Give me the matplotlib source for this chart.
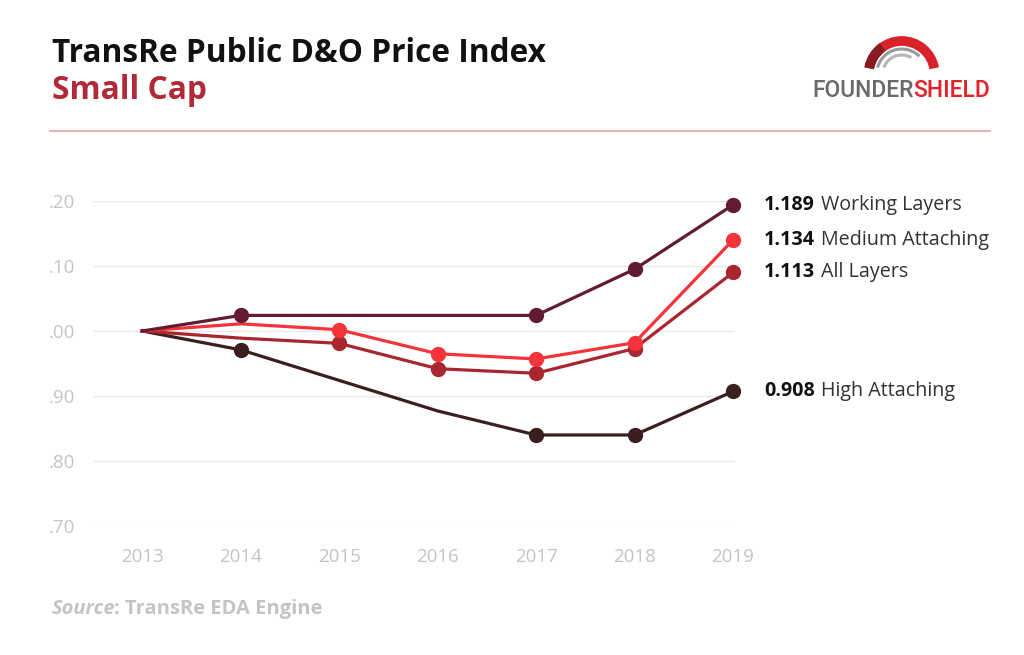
import matplotlib.pyplot as plt
from matplotlib.patches import Arc
from matplotlib.ticker import FuncFormatter

years = [2013, 2014, 2015, 2016, 2017, 2018, 2019]

# index values as drawn on the chart
working_layers = [1.000, 1.024, 1.024, 1.024, 1.024, 1.095, 1.194]
medium_attaching = [1.000, 1.011, 1.002, 0.965, 0.957, 0.982, 1.140]
all_layers = [1.000, 0.989, 0.981, 0.942, 0.935, 0.973, 1.090]
high_attaching = [1.000, 0.971, 0.924, 0.877, 0.840, 0.840, 0.907]

# which points carry a dot
working_marks = [1, 4, 5, 6]
medium_marks = [2, 3, 4, 5, 6]
all_marks = [2, 3, 4, 5, 6]
high_marks = [1, 4, 5, 6]

# end labels
end_values = ["1.189", "1.134", "1.113", "0.908"]
end_names = ["Working Layers", "Medium Attaching", "All Layers", "High Attaching"]

c_working = '#621c31'
c_medium = '#f5333b'
c_all = '#a9262f'
c_high = '#3b1e1f'
grey_txt = '#c4c4c4'

plt.rcParams['font.family'] = ['Open Sans', 'DejaVu Sans']

fig = plt.figure(figsize=(10.24, 6.55), dpi=100)
W, H = 1024, 655


def fx(px):
    return px / W


def fy(py):
    return 1 - py / H


def fit(t, target_w, r):
    # scale a text's font size so it spans target_w pixels
    w = t.get_window_extent(renderer=r).width
    t.set_fontsize(t.get_fontsize() * target_w / w)


ax = fig.add_axes([fx(93), fy(526), fx(735) - fx(93), fy(201) - fy(526)])

series = [
    (high_attaching, c_high, high_marks),
    (all_layers, c_all, all_marks),
    (medium_attaching, c_medium, medium_marks),
    (working_layers, c_working, working_marks),
]
for vals, col, marks in series:
    ax.plot(years, vals, color=col, lw=2.3, marker='o', ms=10,
            markevery=marks, clip_on=False, solid_joinstyle='round')

ax.set_xlim(2012.5, 2019.02)
ax.set_ylim(0.7, 1.2)
ax.set_yticks([0.7, 0.8, 0.9, 1.0, 1.1, 1.2])
ax.yaxis.set_major_formatter(FuncFormatter(lambda v, p: f"{v:.2f}"[1:]))
ax.set_xticks(years)
ax.grid(axis='y', color='#e9e9e9', lw=1)
ax.set_axisbelow(True)
for s in ax.spines.values():
    s.set_visible(False)
ax.tick_params(length=0, labelsize=13.5, labelcolor=grey_txt)
ax.tick_params(axis='y', pad=13)
ax.tick_params(axis='x', pad=16)

fig.canvas.draw()
r = fig.canvas.get_renderer()

# end labels with bold value + regular name
label_y = [205, 240, 272, 391]
for v, n, py in zip(end_values, end_names, label_y):
    t = fig.text(fx(764), fy(py), v, fontsize=14.2, fontweight='bold',
                 color='#111111', va='center', ha='left')
    bb = t.get_window_extent(renderer=r)
    fig.text(fx(bb.x1 + 6), fy(py), n, fontsize=14.2, color='#333333',
             va='center', ha='left')

# titles
t1 = fig.text(fx(52), fy(62), "TransRe Public D&O Price Index", fontsize=22,
              fontweight='bold', color='#111111', va='baseline')
fit(t1, 493, r)
t2 = fig.text(fx(52), fy(99), "Small Cap", fontsize=t1.get_fontsize(),
              fontweight='bold', color='#b02a38', va='baseline')
fig.add_artist(plt.Line2D([fx(50), fx(990)], [fy(131), fy(131)],
                          color='#e3a4a8', lw=1.2))

# source
s1 = fig.text(fx(52), fy(614), "Source", fontsize=14.5, fontweight='bold',
              style='italic', color=grey_txt, va='baseline')
bb = s1.get_window_extent(renderer=r)
fig.text(fx(bb.x1 - 2), fy(614), ": TransRe EDA Engine", fontsize=14.5,
         fontweight='bold', color=grey_txt, va='baseline')

# logo
lax = fig.add_axes([0, 0, 1, 1], facecolor='none')
lax.set_xlim(0, W)
lax.set_ylim(H, 0)
lax.axis('off')
lax.add_patch(Arc((901.7, 74), 66, 66, theta1=190, theta2=350,
                  color='#d8232a', lw=7))
lax.add_patch(Arc((901.7, 74), 66, 66, theta1=190, theta2=235,
                  color='#8a1a22', lw=7))
lax.add_patch(Arc((901.7, 74), 50, 50, theta1=195, theta2=315,
                  color='#9a9a9a', lw=2.2))
lax.add_patch(Arc((901.7, 74), 38, 38, theta1=200, theta2=300,
                  color='#b5b5b5', lw=2.2))
f1 = lax.text(812, 97, "FOUNDER", fontsize=16.5, family='Roboto',
              fontweight='medium', color='#6a6a6a', va='baseline')
bb = f1.get_window_extent(renderer=r)
lax.text(812 + bb.width, 97, "SHIELD", fontsize=16.5, family='Roboto',
         fontweight='medium', color='#e2232a', va='baseline')

fig.savefig('out.png', dpi=100, facecolor='white')
